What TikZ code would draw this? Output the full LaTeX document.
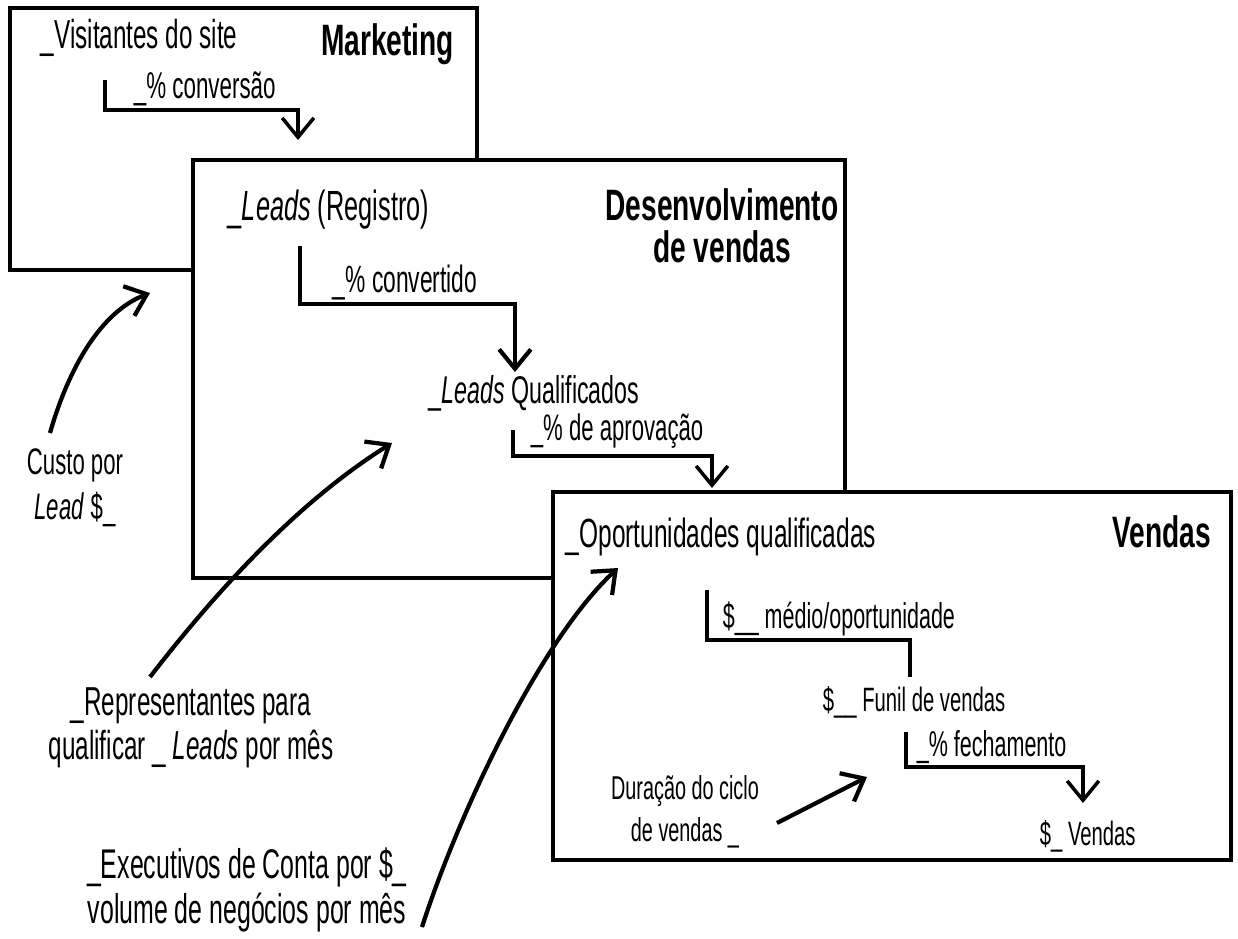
\documentclass[tikz,border=0pt]{standalone}
\usepackage{fontspec}
\setmainfont{Liberation Sans}[FakeStretch=0.6]
\newfontfamily\headfont{Liberation Sans}[FakeStretch=0.64]
\usetikzlibrary{arrows.meta,positioning,calc}
\tikzset{
    >={Straight Barb[length=5.5pt,width=9pt]},
    every picture/.style={line width=0.5pt},
    box/.style={draw,fill=white,line width=1.4pt},
    head/.style={font=\headfont\bfseries\fontsize{12.5}{11.8}\selectfont,align=center,inner sep=0pt},
    lbl/.style={inner sep=0pt,anchor=base west},
    note/.style={align=center,inner sep=0pt},
    flow/.style={->,line width=1pt},
    bracket/.style={line width=1pt},
    pointer/.style={->,line width=1.2pt}
}
\newcommand{\fs}[1]{\fontsize{#1}{#1}\selectfont}

\begin{document}
\begin{tikzpicture}[x=0.01cm,y=-0.01cm]
        \useasboundingbox (0,0) rectangle (1238,938);

        % Marketing
        \draw[box] (10,8) rectangle (477,270);
        \node[lbl,font=\fs{11.5}] (visit) at (40,48) {\_Visitantes do site};
        \node[head,anchor=base east] (mkt) at (455,55) {Marketing};
        \node[lbl,font=\fs{10.6}] (conv) at (133,98) {\_\% conversão};
        \coordinate (conv a) at (105,80);
        \coordinate (conv m) at (298,110);
        \coordinate (conv b) at (298,140);
        \draw[flow] (conv a) |- (conv m) -- (conv b);

        % Desenvolvimento de vendas
        \draw[box] (193,160) rectangle (845,578);
        \node[lbl,font=\fs{12}] (leads) at (227,220) {\_\textit{Leads} (Registro)};
        \node[head] (dev) at (722,226) {Desenvolvimento\\de vendas};
        \node[lbl,font=\fs{10.8}] (cvt) at (332,292) {\_\% convertido};
        \node[lbl,font=\fs{11}] (qual) at (428,403) {\_\textit{Leads} Qualificados};
        \node[lbl,font=\fs{10.5}] (aprov) at (530,440) {\_\% de aprovação};
        \coordinate (cvt a) at (300,246);
        \coordinate (cvt m) at (515,304);
        \coordinate (cvt b) at (515,372);
        \draw[flow,line width=1.2pt] (cvt a) |- (cvt m) -- (cvt b);
        \coordinate (aprov a) at (513,430);
        \coordinate (aprov m) at (712,456);
        \coordinate (aprov b) at (712,488);
        \draw[flow] (aprov a) |- (aprov m) -- (aprov b);

        % Vendas
        \draw[box] (553,492) rectangle (1231,860);
        \node[lbl,font=\fs{11.6}] (oport) at (565,547) {\_Oportunidades qualificadas};
        \node[head,anchor=base east] (vend) at (1212,547) {Vendas};
        \node[lbl,font=\fs{10.2}] (medio) at (722,628) {\$\_\_ médio/oportunidade};
        \node[lbl,font=\fs{9.6}] (funil) at (822,711) {\$\_\_ Funil de vendas};
        \node[lbl,font=\fs{10.2}] (fecha) at (916,756) {\_\% fechamento};
        \node[lbl,font=\fs{9.6}] (total) at (1039,845) {\$\_ Vendas};
        \node[note,font=\fontsize{9.4}{12}\selectfont] (ciclo) at (685,812) {Duração do ciclo\\de vendas \_};
        \coordinate (medio a) at (707,590);
        \coordinate (medio m) at (910,640);
        \coordinate (medio b) at (910,677);
        \draw[bracket] (medio a) |- (medio m) -- (medio b);
        \coordinate (fecha a) at (906,732);
        \coordinate (fecha m) at (1083,767);
        \coordinate (fecha b) at (1083,803);
        \draw[flow] (fecha a) |- (fecha m) -- (fecha b);
        \coordinate (ciclo tip) at (867,777);
        \draw[pointer] ($(ciclo.center)+(92,11)$) -- (ciclo tip);

        % Pointers from outside
        \node[note,font=\fontsize{10.5}{12.8}\selectfont] (custo) at (75,488) {Custo por\\\textit{Lead} \$\_};
        \coordinate (custo tip) at (150,293);
        \draw[pointer] ($(custo.center)+(-25,-55)$) .. controls (68,370) and (100,312) .. (custo tip);

        \node[note,font=\fontsize{11.5}{12.5}\selectfont] (repr) at (191,728) {\_Representantes para\\qualificar \_ \textit{Leads} por mês};
        \coordinate (repr tip) at (392,443);
        \draw[pointer] ($(repr.center)+(-41,-51)$) .. controls (217,590) and (299,501) .. (repr tip);

        \node[note,font=\fontsize{11.8}{12.8}\selectfont] (exec) at (247,890) {\_Executivos de Conta por \$\_\\volume de negócios por mês};
        \coordinate (exec tip) at (618,568);
        \draw[pointer] ($(exec.center)+(175,37)$) .. controls (458,815) and (540,640) .. (exec tip);
\end{tikzpicture}
\end{document}
